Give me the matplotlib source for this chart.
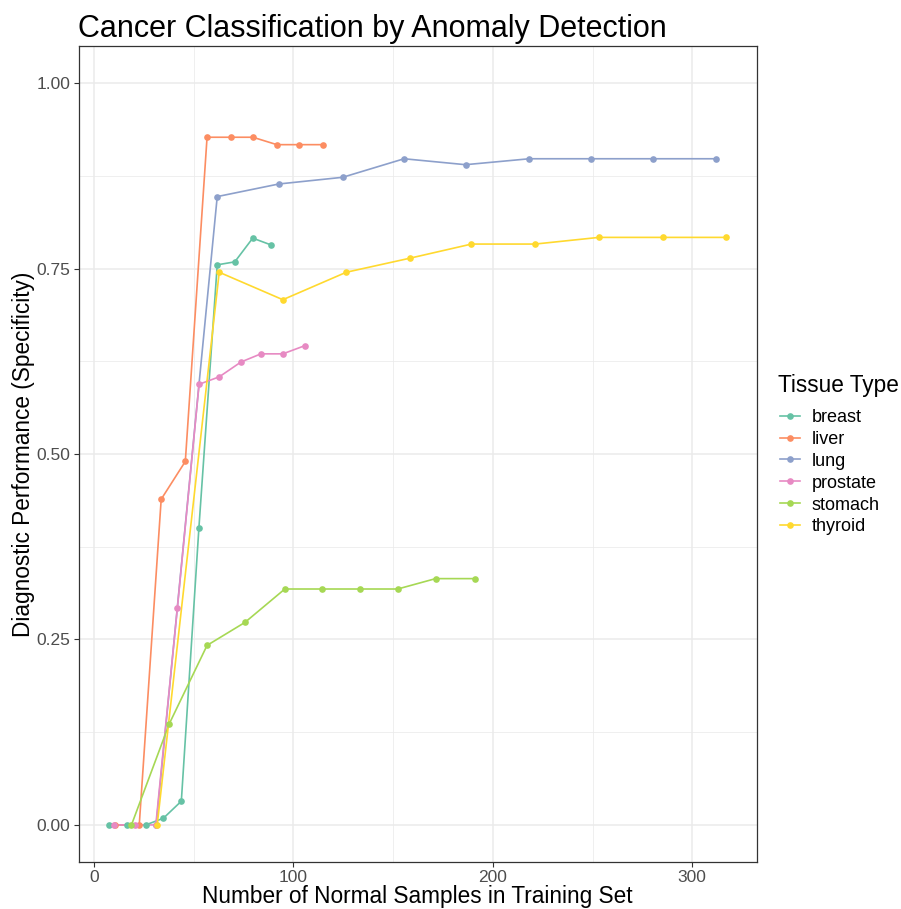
#!/usr/bin/env python3
# -*- coding: utf-8 -*-

import matplotlib
matplotlib.use("Agg")
import matplotlib.pyplot as plt
from matplotlib.lines import Line2D
from matplotlib.ticker import MultipleLocator

# values
TISSUES = ["breast", "liver", "lung", "prostate", "stomach", "thyroid"]
COLORS = ["#66C2A5", "#FC8D62", "#8DA0CB", "#E78AC3", "#A6D854", "#FFD92F"]

breast_x = [7.7, 16.8, 26.0, 34.8, 43.8, 52.6, 61.8, 70.6, 79.6, 88.6]
breast_y = [0.0, 0.0, 0.0, 0.009, 0.032, 0.400, 0.755, 0.759, 0.791, 0.782]

liver_x = [10.5, 22.7, 33.7, 45.8, 56.7, 68.8, 79.7, 91.7, 102.7, 114.7]
liver_y = [0.0, 0.0, 0.439, 0.490, 0.927, 0.927, 0.927, 0.917, 0.917, 0.917]

lung_x = [31.2, 61.8, 92.7, 124.7, 155.5, 186.3, 218.3, 249.2, 280.2, 312.0]
lung_y = [0.0, 0.847, 0.864, 0.873, 0.898, 0.890, 0.898, 0.898, 0.898, 0.898]

prostate_x = [10.2, 20.7, 31.0, 41.8, 52.7, 62.8, 73.7, 83.7, 94.7, 105.7]
prostate_y = [0.0, 0.0, 0.0, 0.292, 0.594, 0.604, 0.624, 0.635, 0.635, 0.646]

stomach_x = [18.8, 37.7, 56.7, 75.7, 95.7, 114.5, 133.5, 152.3, 171.3, 191.3]
stomach_y = [0.0, 0.136, 0.242, 0.273, 0.318, 0.318, 0.318, 0.318, 0.332, 0.332]

thyroid_x = [31.7, 62.8, 94.7, 126.5, 158.5, 189.3, 221.2, 253.2, 285.2, 317.0]
thyroid_y = [0.0, 0.745, 0.708, 0.745, 0.764, 0.783, 0.783, 0.792, 0.792, 0.792]

SERIES_X = [breast_x, liver_x, lung_x, prostate_x, stomach_x, thyroid_x]
SERIES_Y = [breast_y, liver_y, lung_y, prostate_y, stomach_y, thyroid_y]

TITLE = "Cancer Classification by Anomaly Detection"
X_LABEL = "Number of Normal Samples in Training Set"
Y_LABEL = "Diagnostic Performance (Specificity)"
LEGEND_TITLE = "Tissue Type"

W, H = 901, 909
DPI = 100
GRID = "#EBEBEB"
BORDER = "#333333"
TICK_TXT = "#4D4D4D"


def main():
    plt.rcParams["font.family"] = ["Liberation Sans", "DejaVu Sans"]

    fig = plt.figure(figsize=(W / DPI, H / DPI), dpi=DPI)
    left, right, top, bottom = 78.5, 757, 46, 862
    ax = fig.add_axes([left / W, 1 - bottom / H, (right - left) / W, (bottom - top) / H])

    for xs, ys, col in zip(SERIES_X, SERIES_Y, COLORS):
        ax.plot(xs, ys, color=col, linewidth=1.2, zorder=2)
    for xs, ys, col in zip(SERIES_X, SERIES_Y, COLORS):
        ax.plot(xs, ys, linestyle="none", marker="o", markersize=4.8,
                markeredgewidth=0, color=col, zorder=3)

    all_x = [v for xs in SERIES_X for v in xs]
    span = max(all_x) - min(all_x)
    ax.set_xlim(min(all_x) - 0.05 * span, max(all_x) + 0.05 * span)
    ax.set_ylim(-0.05, 1.05)

    ax.xaxis.set_major_locator(MultipleLocator(100))
    ax.xaxis.set_minor_locator(MultipleLocator(50))
    ax.yaxis.set_major_locator(MultipleLocator(0.25))
    ax.yaxis.set_minor_locator(MultipleLocator(0.125))
    ax.yaxis.set_major_formatter(lambda v, p: f"{v:.2f}")

    ax.grid(True, which="major", color=GRID, linewidth=1.1, zorder=0)
    ax.grid(True, which="minor", color=GRID, linewidth=0.55, zorder=0)
    ax.set_axisbelow(True)
    for sp in ax.spines.values():
        sp.set_color(BORDER)
        sp.set_linewidth(0.9)

    ax.tick_params(which="major", length=3.5, width=0.8, color=BORDER,
                   labelsize=12.5, labelcolor=TICK_TXT, pad=2.5)
    ax.tick_params(which="minor", length=0)

    fig.text(left / W, 1 - 37 / H, TITLE, fontsize=22, ha="left", va="baseline")
    fig.text((left + right) / 2 / W, 1 - 903 / H, X_LABEL, fontsize=16.3,
             ha="center", va="baseline")
    fig.text(12 / W, 1 - (top + bottom) / 2 / H, Y_LABEL, fontsize=16.3,
             rotation=90, ha="left", va="center")

    # legend title drawn by hand so its gap to the keys can be set
    fig.text(778 / W, 1 - 392 / H, LEGEND_TITLE, fontsize=16.3,
             ha="left", va="baseline")
    handles = [Line2D([0], [0], color=c, linewidth=1.2, marker="o",
                      markersize=4.8, markeredgewidth=0) for c in COLORS]
    fig.legend(handles, TISSUES, loc="upper left",
               bbox_to_anchor=(780 / W, 1 - 409 / H), frameon=False,
               fontsize=13, handlelength=1.1, handletextpad=0.66,
               labelspacing=0.27, borderpad=0, borderaxespad=0)

    fig.savefig("out.png", dpi=DPI)
    plt.close(fig)


if __name__ == "__main__":
    main()
